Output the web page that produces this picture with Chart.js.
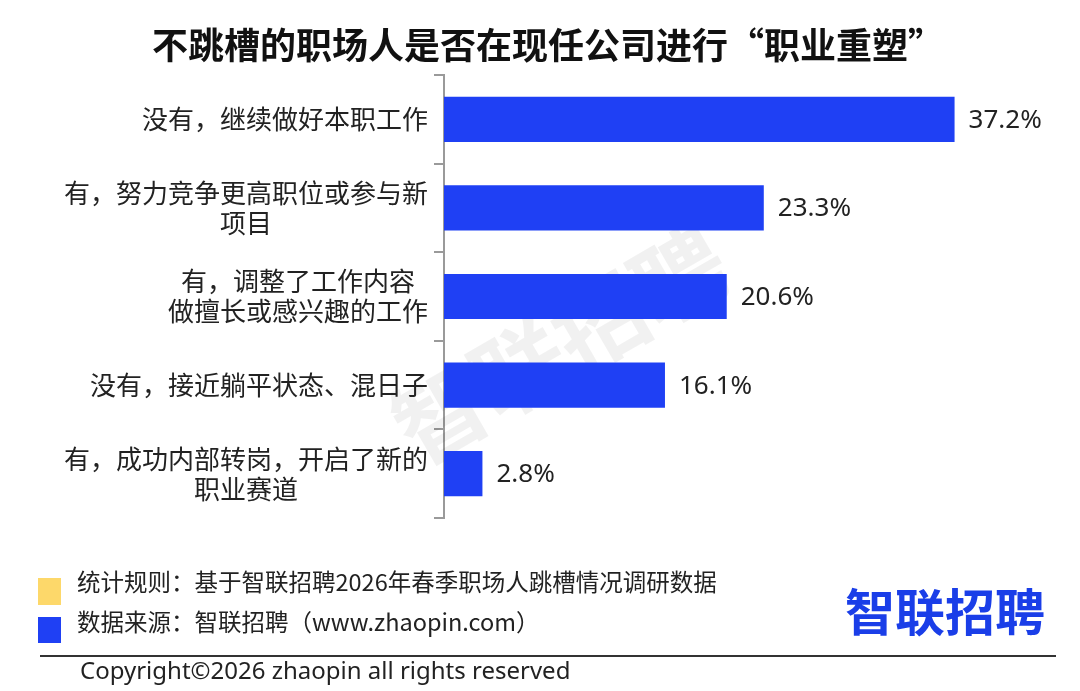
<!DOCTYPE html>
<html>
<head>
<meta charset="utf-8">
<script src="https://cdn.jsdelivr.net/npm/chart.js@4"></script>
<style>
  html, body { margin: 0; padding: 0; background: #fff; }
  #wrap { width: 1080px; height: 691px; }
</style>
</head>
<body>
<div id="wrap"><canvas id="bar_reshape_chart"></canvas></div>
<script>
const categories = [
    ['没有，继续做好本职工作'],
    ['有，努力竞争更高职位或参与新', '项目'],
    ['有，调整了工作内容', '做擅长或感兴趣的工作'],
    ['没有，接近躺平状态、混日子'],
    ['有，成功内部转岗，开启了新的', '职业赛道']
]
const values = [37.2, 23.3, 20.6, 16.1, 2.8]
const value_labels = ['37.2%', '23.3%', '20.6%', '16.1%', '2.8%']

const title_text = '不跳槽的职场人是否在现任公司进行“职业重塑”'
const note_rule = '统计规则：基于智联招聘2026年春季职场人跳槽情况调研数据'
const note_source = '数据来源：智联招聘（www.zhaopin.com）'
const copyright_text = 'Copyright©2026 zhaopin all rights reserved'
const logo_text = '智联招聘'

const cjk = '"Noto Sans CJK SC", "Noto Sans", sans-serif'
const bar_blue = '#1f40f4'

const reshape_chart = document.querySelector('#bar_reshape_chart')

// labels, value labels, title and footer drawn by hand
const decorations = {
    id: 'decorations',
    beforeDatasetsDraw(chart) {
        const ctx = chart.ctx
        ctx.save()
        ctx.translate(560, 345)
        ctx.rotate(-30 * Math.PI / 180)
        ctx.font = 'bold 92px ' + cjk
        ctx.fillStyle = 'rgba(0,0,0,0.055)'
        ctx.textAlign = 'center'
        ctx.textBaseline = 'middle'
        ctx.fillText(logo_text, 0, 0)
        ctx.restore()
    },
    afterDraw(chart) {
        const ctx = chart.ctx
        const y = chart.scales.y
        const x = chart.scales.x
        ctx.save()

        // category labels, block right aligned, lines centred
        ctx.font = '26px ' + cjk
        ctx.fillStyle = '#222'
        ctx.textBaseline = 'middle'
        ctx.textAlign = 'center'
        categories.forEach((lines, i) => {
            const cy = y.getPixelForValue(i)
            const widest = Math.max(...lines.map(l => ctx.measureText(l).width))
            const cx = 428 - widest / 2
            const top = cy - (lines.length - 1) * 15
            lines.forEach((l, j) => ctx.fillText(l, cx, top + j * 30))
        })

        // value labels
        ctx.font = '26px "Noto Sans", sans-serif'
        ctx.textAlign = 'left'
        values.forEach((v, i) => {
            ctx.fillText(value_labels[i], x.getPixelForValue(v) + 14, y.getPixelForValue(i) + 1)
        })

        // title
        ctx.font = 'bold 36px ' + cjk
        ctx.fillStyle = '#111'
        ctx.textAlign = 'center'
        ctx.fillText(title_text, 548, 45)

        // footer notes
        ctx.fillStyle = '#fdd86a'
        ctx.fillRect(38, 578, 23, 27)
        ctx.fillStyle = bar_blue
        ctx.fillRect(38, 617, 23, 26)
        ctx.font = '23.5px ' + cjk
        ctx.fillStyle = '#222'
        ctx.textAlign = 'left'
        ctx.fillText(note_rule, 77, 582)
        ctx.fillText(note_source, 77, 622)

        // logo
        ctx.font = 'bold 50px ' + cjk
        ctx.fillStyle = '#1a3ee8'
        ctx.textAlign = 'center'
        ctx.fillText(logo_text, 945, 612)

        // separator and copyright
        ctx.strokeStyle = '#333'
        ctx.lineWidth = 2
        ctx.beginPath()
        ctx.moveTo(40, 656)
        ctx.lineTo(1056, 656)
        ctx.stroke()
        ctx.font = '24px "Noto Sans", sans-serif'
        ctx.fillStyle = '#222'
        ctx.textAlign = 'left'
        ctx.fillText(copyright_text, 80, 672)

        ctx.restore()
    }
}

new Chart(reshape_chart, {
    type: 'bar',
    data: {
        labels: categories,
        datasets: [{
            data: values,
            backgroundColor: bar_blue,
            categoryPercentage: 1,
            barPercentage: 0.51
        }]
    },
    options: {
        indexAxis: 'y',
        responsive: true,
        maintainAspectRatio: false,
        animation: false,
        layout: {
            padding: { left: 0, right: 87, top: 75, bottom: 173 }
        },
        plugins: {
            legend: false,
            tooltip: { enabled: false }
        },
        scales: {
            x: {
                display: false,
                min: 0,
                max: 40
            },
            y: {
                afterFit: scale => { scale.width = 444 },
                ticks: { display: false },
                grid: {
                    offset: true,
                    drawOnChartArea: false,
                    drawTicks: true,
                    tickLength: 10,
                    color: '#9a9a9a',
                    lineWidth: 2
                },
                border: { color: '#9a9a9a', width: 2 }
            }
        }
    },
    plugins: [decorations]
})
</script>
</body>
</html>
